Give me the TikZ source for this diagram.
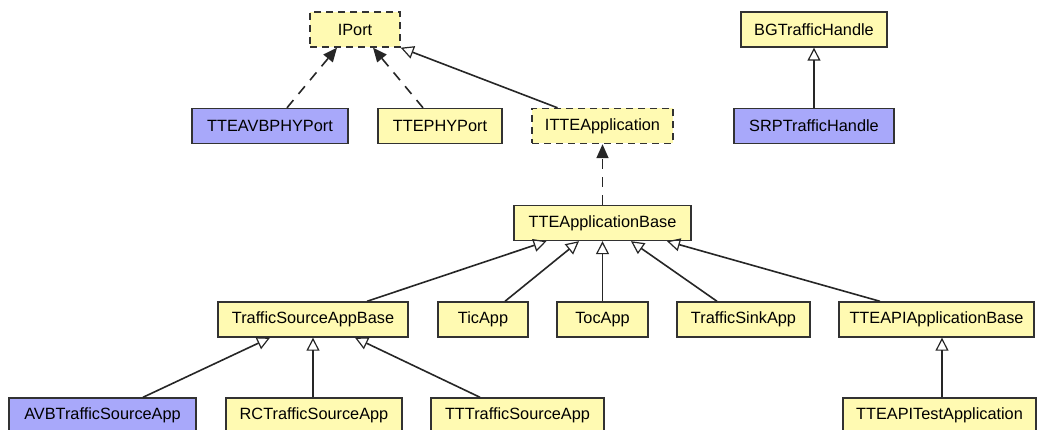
\documentclass[tikz,border=0pt]{standalone}
\usepackage{fontspec}
\setmainfont{Liberation Sans}
\usetikzlibrary{arrows.meta}
\definecolor{boxyellow}{RGB}{255,250,178}
\definecolor{boxblue}{RGB}{168,168,250}
\definecolor{boxline}{RGB}{50,50,50}
\tikzset{
  cls/.style={draw=boxline, line width=1.4pt, minimum height=35pt, inner sep=0pt,
    font=\fontsize{16.3}{19}\selectfont, text=black},
  ylw/.style={cls, fill=boxyellow},
  blu/.style={cls, fill=boxblue},
  iface/.style={ylw, dash pattern=on 7pt off 5pt},
  inherit/.style={draw=black!85, line width=1.6pt, -{Triangle[open, length=13pt, width=13pt, line width=1.2pt]}},
  realize/.style={draw=black!85, line width=1.6pt, dash pattern=on 10pt off 8pt, -{Triangle[length=14pt, width=12pt]}},
}
\begin{document}
\begin{tikzpicture}[x=1pt,y=-1pt]
\clip (0,0) rectangle (1040,430);
\fill[white] (0,0) rectangle (1040,430);
% row 1
\node[iface, minimum width=90pt] (IPort) at (355,29.5) {IPort};
\node[ylw, minimum width=146pt] (BG) at (814,29.5) {BGTrafficHandle};
% row 2
\node[blu, minimum width=156pt] (AVBPHY) at (270,126) {TTEAVBPHYPort};
\node[ylw, minimum width=124pt] (PHY) at (440,126) {TTEPHYPort};
\node[iface, minimum width=141pt] (ITTE) at (602.5,126) {ITTEApplication};
\node[blu, minimum width=160pt] (SRP) at (814,126) {SRPTrafficHandle};
% row 3
\node[ylw, minimum width=177pt] (TTEAB) at (602.5,223) {TTEApplicationBase};
% row 4
\node[ylw, minimum width=190pt] (TSAB) at (313,319.5) {TrafficSourceAppBase};
\node[ylw, minimum width=90pt] (Tic) at (483,319.5) {TicApp};
\node[ylw, minimum width=91pt] (Toc) at (602.5,319.5) {TocApp};
\node[ylw, minimum width=133pt] (Sink) at (743.5,319.5) {TrafficSinkApp};
\node[ylw, minimum width=195pt] (APIB) at (936.5,319.5) {TTEAPIApplicationBase};
% row 5
\node[blu, minimum width=187pt] (AVB) at (102.5,415.5) {AVBTrafficSourceApp};
\node[ylw, minimum width=176pt] (RC) at (314,415.5) {RCTrafficSourceApp};
\node[ylw, minimum width=173pt] (TT) at (517.5,415.5) {TTTrafficSourceApp};
\node[ylw, minimum width=193pt] (Test) at (939.5,415.5) {TTEAPITestApplication};
% edges
\draw[realize] ([xshift=17pt]AVBPHY.north) -- ([xshift=-18pt]IPort.south);
\draw[realize] ([xshift=-17pt]PHY.north) -- ([xshift=18pt]IPort.south);
\draw[inherit] ([xshift=-45pt]ITTE.north) -- (IPort.south east);
\draw[realize] (TTEAB.north) -- (ITTE.south);
\draw[inherit] (SRP.north) -- (BG.south);
\draw[inherit] ([xshift=54pt]TSAB.north) -- ([xshift=-56pt]TTEAB.south);
\draw[inherit] ([xshift=22pt]Tic.north) -- ([xshift=-23.5pt]TTEAB.south);
\draw[inherit] (Toc.north) -- (TTEAB.south);
\draw[inherit] ([xshift=-26.5pt]Sink.north) -- ([xshift=28.5pt]TTEAB.south);
\draw[inherit] ([xshift=-56.5pt]APIB.north) -- ([xshift=64.5pt]TTEAB.south);
\draw[inherit] ([xshift=40.5pt]AVB.north) -- ([xshift=-43pt]TSAB.south);
\draw[inherit] ([xshift=-1pt]RC.north) -- (TSAB.south);
\draw[inherit] ([xshift=-37.5pt]TT.north) -- ([xshift=42pt]TSAB.south);
\draw[inherit] ([xshift=2.5pt]Test.north) -- ([xshift=5.5pt]APIB.south);
\end{tikzpicture}
\end{document}
